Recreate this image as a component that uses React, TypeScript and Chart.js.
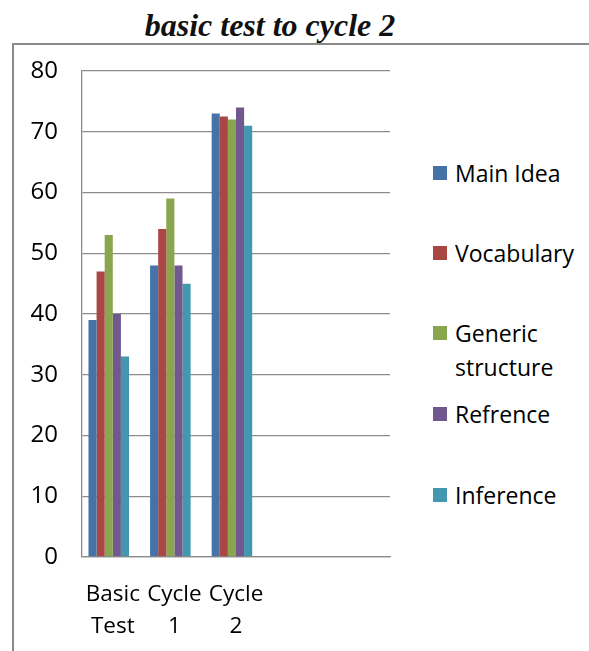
import React, { useEffect, useRef } from "react";
import { Chart, registerables } from "chart.js";

Chart.register(...registerables);

const categories: (string | string[])[] = [["Basic", "Test"], ["Cycle", "1"], ["Cycle", "2"], "", ""];
const seriesNames = ["Main Idea", "Vocabulary", "Generic structure", "Refrence", "Inference"];
const mainIdea = [39, 48, 73, null, null];
const vocabulary = [47, 54, 72.5, null, null];
const genericStructure = [53, 59, 72, null, null];
const refrence = [40, 48, 74, null, null];
const inference = [33, 45, 71, null, null];
const colors = ["#4572A7", "#AA4643", "#89A54E", "#71588F", "#4198AF"];
const yTicks = [0, 10, 20, 30, 40, 50, 60, 70, 80];

const FONT = "'Open Sans', 'Noto Sans', sans-serif";

export default function App() {
  const ref = useRef<HTMLCanvasElement | null>(null);

  useEffect(() => {
    if (!ref.current) return;
    const values = [mainIdea, vocabulary, genericStructure, refrence, inference];
    const datasets: any[] = values.map((d, i) => ({
      label: seriesNames[i],
      data: d,
      backgroundColor: colors[i],
      borderWidth: 0,
      categoryPercentage: 0.79,
      barPercentage: 1,
    }));
    // empty slot, Excel-like spacing to the right of each group
    datasets.push({
      label: "",
      data: [null, null, null, null, null],
      backgroundColor: "rgba(0,0,0,0)",
      categoryPercentage: 0.79,
      barPercentage: 1,
    });
    const chart = new Chart(ref.current, {
      type: "bar",
      data: { labels: categories as any, datasets },
      options: {
        animation: false,
        responsive: false,
        devicePixelRatio: 1,
        layout: { padding: { top: 71, right: 10, left: 0, bottom: 0 } },
        plugins: { legend: { display: false }, title: { display: false }, tooltip: { enabled: false } },
        scales: {
          y: {
            min: 0,
            max: 80,
            afterBuildTicks: (s: any) => {
              s.ticks = yTicks.map((v) => ({ value: v }));
            },
            afterFit: (s: any) => {
              s.width = 82;
            },
            grid: { color: "#8c8c8c", lineWidth: 1.3, drawTicks: false },
            border: { display: true, color: "#8c8c8c", width: 1.3 },
            ticks: { padding: 24, color: "#000", font: { family: FONT, size: 24 } },
          },
          x: {
            afterFit: (s: any) => {
              s.height = 94;
            },
            grid: { display: false, drawTicks: false },
            border: { display: true, color: "#8c8c8c", width: 1.3 },
            ticks: {
              padding: 22,
              color: "#000",
              autoSkip: false,
              maxRotation: 0,
              font: { family: FONT, size: 22.5, lineHeight: 1.42 },
            },
          },
        },
      },
    });
    return () => chart.destroy();
  }, []);

  const legendTops = [173, 253, 333, 414, 495];

  return (
    <div style={{ position: "absolute", left: 0, top: 0, width: 589, height: 651, overflow: "hidden", background: "#fff" }}>
      <div
        style={{
          position: "absolute",
          left: 0,
          width: 540,
          top: 5,
          textAlign: "center",
          fontFamily: "'Liberation Serif', 'Times New Roman', serif",
          fontWeight: "bold",
          fontStyle: "italic",
          fontSize: 32,
          lineHeight: "40px",
          color: "#111",
        }}
      >
        basic test to cycle 2
      </div>
      <div
        style={{
          position: "absolute",
          left: 12,
          top: 43,
          width: 620,
          height: 700,
          borderLeft: "2px solid #8a8a8a",
          borderTop: "2px solid #8a8a8a",
        }}
      />
      <canvas ref={ref} width={400} height={651} style={{ position: "absolute", left: 0, top: 0, width: 400, height: 651 }} />
      {seriesNames.map((name, i) => (
        <div
          key={name}
          style={{
            position: "absolute",
            left: 433,
            top: legendTops[i] - 17,
            fontFamily: FONT,
            fontSize: 23,
            lineHeight: "34px",
            color: "#000",
          }}
        >
          <span
            style={{
              position: "absolute",
              left: 0,
              top: 10,
              width: 14,
              height: 14,
              background: colors[i],
            }}
          />
          <div style={{ marginLeft: 22, width: 150 }}>
            {name === "Generic structure" ? (
              <>
                Generic
                <br />
                structure
              </>
            ) : (
              name
            )}
          </div>
        </div>
      ))}
    </div>
  );
}
